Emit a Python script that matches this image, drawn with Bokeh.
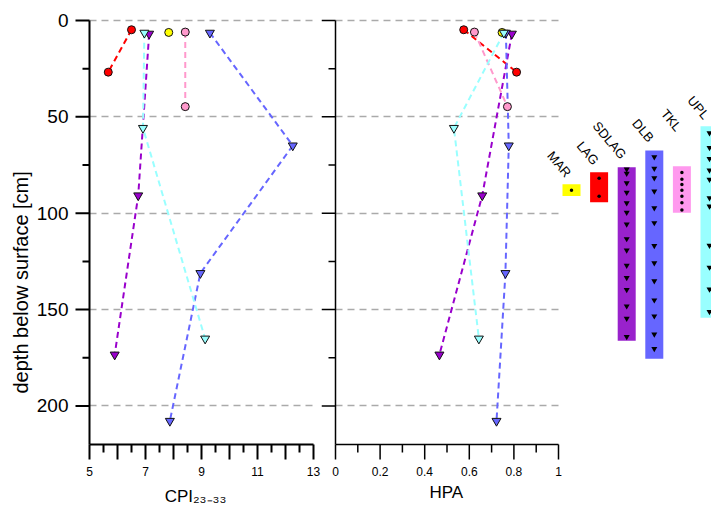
from bokeh.plotting import figure
from bokeh.models import Range1d, FixedTicker, CustomJSTickFormatter, Title
from bokeh.layouts import row
from bokeh.embed import file_html
from bokeh.resources import INLINE
from bokeh.core.properties import value

# ---------------- data ----------------
sites = ["MAR", "LAG", "SDLAG", "DLB", "TKL", "UPL"]
site_colors = ["#ffff00", "#ff0000", "#9900cc", "#6666ff", "#ff99cc", "#99ffff"]
core_colors = ["#ffff00", "#ff0000", "#9922cc", "#6666ff", "#ff99ee", "#99ffff"]
site_markers = ["circle", "circle", "inverted_triangle", "inverted_triangle", "circle", "inverted_triangle"]

mar_depth = [6.2]
mar_cpi = [7.83]
mar_hpa = [0.747]

lag_depth = [4.8, 26.8]
lag_cpi = [6.50, 5.67]
lag_hpa = [0.575, 0.812]

sdlag_depth = [6.9, 90.8, 173.4]
sdlag_cpi = [7.13, 6.74, 5.90]
sdlag_hpa = [0.791, 0.658, 0.466]

dlb_depth = [6.4, 64.9, 131.1, 207.8]
dlb_cpi = [9.30, 12.26, 8.96, 7.87]
dlb_hpa = [0.764, 0.777, 0.762, 0.722]

tkl_depth = [6.0, 44.7]
tkl_cpi = [8.42, 8.42]
tkl_hpa = [0.623, 0.771]

upl_depth = [6.4, 55.8, 165.1]
upl_cpi = [6.96, 6.91, 9.13]
upl_hpa = [0.755, 0.531, 0.643]

depths = [mar_depth, lag_depth, sdlag_depth, dlb_depth, tkl_depth, upl_depth]
cpis = [mar_cpi, lag_cpi, sdlag_cpi, dlb_cpi, tkl_cpi, upl_cpi]
hpas = [mar_hpa, lag_hpa, sdlag_hpa, dlb_hpa, tkl_hpa, upl_hpa]

# core sections (depth in cm)
core_top = [85.0, 78.8, 76.2, 67.4, 75.6, 54.9]
core_bottom = [91.0, 94.3, 166.2, 175.5, 99.8, 154.2]
mar_samples = [88.1]
lag_samples = [81.9, 91.2]
sdlag_samples = [77.2, 79.4, 84.3, 89.3, 94.7, 99.6, 105.7, 113.3, 119.2, 127.1,
                 133.5, 139.7, 148.2, 154.6, 164.1]
dlb_samples = [70.8, 76.8, 81.7, 88.6, 97.3, 105.0, 116.9, 125.8, 135.2, 145.1,
               153.4, 162.8, 170.3]
tkl_samples = [78.9, 82.4, 85.1, 88.1, 91.2, 94.5, 98.3]
upl_samples = [58.4, 66.0, 71.7, 77.7, 82.5, 92.1, 96.4, 116.7, 128.1, 139.5, 151.1]
core_samples = [mar_samples, lag_samples, sdlag_samples, dlb_samples, tkl_samples, upl_samples]

depth_axis = (0, 220)
cpi_axis = (5, 13)
hpa_axis = (0, 1)
y_ticks = [0, 50, 100, 150, 200]
y_minor = [25, 75, 125, 175]
cpi_ticks = [5, 6, 7, 8, 9, 10, 11, 12, 13]
cpi_minor = [5.5, 6.5, 7.5, 8.5, 9.5, 10.5, 11.5, 12.5]
hpa_ticks = [0, 0.2, 0.4, 0.6, 0.8, 1.0]
hpa_minor = [0.1, 0.3, 0.5, 0.7, 0.9]

# ---------------- layout constants (pixels) ----------------
FONT = "Liberation Sans"
label_depth = [81.9, 75.6, 72.5, 63.7, 58.0, 51.8]   # rotated core-name anchors
PX_CPI = 28.0
PX_HPA = 223.0
PX_DEPTH = 424.0 / 220.0
PX_CORE = 27.6
Y_TICK, Y_MINOR_TICK = 14, 7
X_TICK, X_MINOR_TICK = 15, 8

D0, D1 = depth_axis
yr = Range1d(D1 + 16 / PX_DEPTH, D0 - 2 / PX_DEPTH)


def base(width, xr, left, right, **kw):
    p = figure(width=width, height=511, x_range=xr, y_range=yr,
               output_backend="svg", toolbar_location=None,
               min_border_left=left, min_border_right=right,
               min_border_top=18, min_border_bottom=51, **kw)
    p.outline_line_color = None
    p.background_fill_color = "#ffffff"
    p.border_fill_color = "#ffffff"
    return p


def hide_axis_marks(ax):
    ax.axis_line_color = None
    ax.major_tick_line_color = None
    ax.minor_tick_line_color = None
    ax.major_tick_in = 0
    ax.major_tick_out = 0
    ax.minor_tick_in = 0
    ax.minor_tick_out = 0
    ax.major_label_standoff = 6


def style_xaxis(xa, ticks, fmt_code):
    xa.ticker = FixedTicker(ticks=ticks)
    xa.formatter = CustomJSTickFormatter(code=fmt_code)
    hide_axis_marks(xa)
    xa.major_label_text_font = FONT
    xa.major_label_text_font_size = "12px"
    xa.major_label_text_color = "black"


def style_grid(p, cross):
    p.xgrid.visible = False
    g = p.ygrid[0]
    g.ticker = FixedTicker(ticks=y_ticks)
    g.grid_line_color = "#aaaaaa"
    g.grid_line_width = 1.3
    g.grid_line_dash = "7 5"
    g.cross_bounds = cross


def draw_axis_frame(p, xlim, xt, xm, px_x, lw):
    """axis lines + outward ticks, placed through the data scales"""
    x0, x1 = xlim
    kw = dict(line_color="black", line_width=lw)
    p.segment(x0=[x0, x0], y0=[D0, D1], x1=[x0, x1], y1=[D1, D1], **kw)
    p.segment(x0=[x0] * len(y_ticks), x1=[x0 - Y_TICK / px_x] * len(y_ticks),
              y0=y_ticks, y1=y_ticks, **kw)
    p.segment(x0=[x0] * len(y_minor), x1=[x0 - Y_MINOR_TICK / px_x] * len(y_minor),
              y0=y_minor, y1=y_minor, **kw)
    p.segment(x0=xt, x1=xt, y0=[D1] * len(xt),
              y1=[D1 + X_TICK / PX_DEPTH] * len(xt), **kw)
    p.segment(x0=xm, x1=xm, y0=[D1] * len(xm),
              y1=[D1 + X_MINOR_TICK / PX_DEPTH] * len(xm), **kw)


def draw_series(p, xs_list):
    for xs, d, c in zip(xs_list, depths, site_colors):
        if len(xs) > 1:
            p.line(xs, d, line_color=c, line_width=2, line_dash="6 4")
    for xs, d, c, m in zip(xs_list, depths, site_colors, site_markers):
        p.scatter(xs, d, marker=m, size=9 if m != "circle" else 8,
                  fill_color=c, line_color="#111111", line_width=1)


# ---------------- CPI panel ----------------
c0, c1 = cpi_axis
p1 = base(321, Range1d(c0 - 15 / PX_CPI, c1 + 3 / PX_CPI), 74, 5)
style_grid(p1, cpi_axis)
ya1 = p1.yaxis[0]
ya1.ticker = FixedTicker(ticks=y_ticks)
hide_axis_marks(ya1)
ya1.major_label_text_font = FONT
ya1.major_label_text_font_size = "19px"
ya1.major_label_text_color = "black"

xa1 = p1.xaxis[0]
style_xaxis(xa1, cpi_ticks, "return (Math.round(tick) % 2 == 1) ? tick.toString() : '';")
xa1.axis_label = "CPI\u2082\u2083\u208b\u2083\u2083"
xa1.axis_label_text_font = FONT
xa1.axis_label_text_font_size = "17px"
xa1.axis_label_text_font_style = "normal"
xa1.axis_label_text_color = "black"
xa1.axis_label_standoff = 8

p1.add_layout(Title(text="depth below surface [cm]", align="left", offset=67,
                    text_font=FONT, text_font_size="20px", text_font_style="normal",
                    text_color="black", standoff=4), "left")
draw_axis_frame(p1, cpi_axis, cpi_ticks, cpi_minor, PX_CPI, 2)
draw_series(p1, cpis)

# ---------------- HPA panel + core sketch ----------------
h0, h1 = hpa_axis
p2 = base(390, Range1d(h0 - 14 / PX_HPA, h0 + 376 / PX_HPA), 0, 0, y_axis_location=None)
p2.extra_x_ranges = {"core": Range1d((321 - 571) / PX_CORE, (711 - 571) / PX_CORE)}
style_grid(p2, hpa_axis)

xa2 = p2.xaxis[0]
style_xaxis(xa2, hpa_ticks,
            "return (tick == 0 || tick == 1) ? tick.toFixed(0) : tick.toFixed(1);")
xa2.bounds = hpa_axis
p2.add_layout(Title(text="HPA", align="left", offset=108,
                    text_font=FONT, text_font_size="17px", text_font_style="normal",
                    text_color="black", standoff=4), "below")
draw_axis_frame(p2, hpa_axis, hpa_ticks, hpa_minor, PX_HPA, 1.5)
draw_series(p2, hpas)

idx = list(range(len(sites)))
p2.vbar(x=idx, width=18 / PX_CORE, top=core_top, bottom=core_bottom,
        fill_color=core_colors, line_color=None, x_range_name="core")
for i, (s, m) in enumerate(zip(core_samples, site_markers)):
    if m == "circle":
        p2.scatter([i] * len(s), s, marker="circle", size=3.5,
                   fill_color="black", line_color=None, x_range_name="core")
    else:
        p2.scatter([i] * len(s), s, marker="inverted_triangle", size=6,
                   fill_color="black", line_color=None, x_range_name="core")
p2.text(x=idx, y=label_depth, text=sites, angle=-50, angle_units="deg",
        text_align="right", text_baseline="middle", text_font=value(FONT),
        text_font_size="13px", text_color="black", x_offset=-3, y_offset=-3,
        x_range_name="core")

layout = row(p1, p2, spacing=0)
open("out.html", "w").write(file_html(layout, INLINE))
